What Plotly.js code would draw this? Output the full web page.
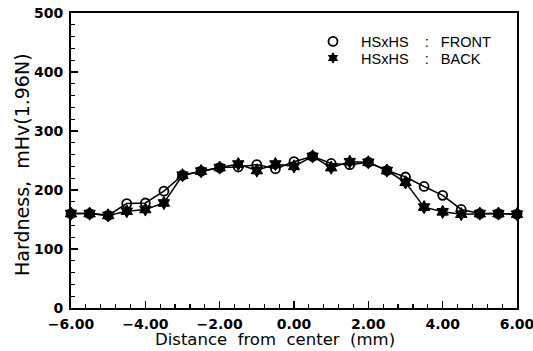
<!DOCTYPE html>
<html>
<head>
<meta charset="utf-8">
<script src="https://cdn.plot.ly/plotly-3.0.1.min.js"></script>
<style>html,body{margin:0;padding:0;background:#fff;}#chart{width:533px;height:351px;}</style>
</head>
<body>
<div id="chart"></div>
<script>
// Data
const distance = [-6.0, -5.5, -5.0, -4.5, -4.0, -3.5, -3.0, -2.5, -2.0, -1.5, -1.0, -0.5, 0.0, 0.5, 1.0, 1.5, 2.0, 2.5, 3.0, 3.5, 4.0, 4.5, 5.0, 5.5, 6.0];
const frontHardness = [160, 160, 157, 177, 178, 198, 225, 232, 238, 239, 243, 236, 248, 257, 245, 243, 247, 233, 222, 206, 191, 167, 160, 160, 159];
const backHardness  = [160, 160, 157, 164, 167, 178, 225, 232, 238, 244, 233, 244, 240, 257, 238, 248, 247, 233, 213, 171, 163, 159, 160, 160, 159];
const xTickVals = [-6, -4, -2, 0, 2, 4, 6];
const yTickVals = [0, 100, 200, 300, 400, 500];
const frontName = "\u00a0\u00a0HSxHS\u00a0\u00a0\u00a0\u00a0:\u00a0\u00a0\u00a0FRONT";
const backName  = "\u00a0\u00a0HSxHS\u00a0\u00a0\u00a0\u00a0:\u00a0\u00a0\u00a0BACK";
const xTitle = "Distance\u00a0\u00a0from\u00a0\u00a0center\u00a0\u00a0(mm)";
const yTitle = "Hardness,\u00a0\u00a0mHv(1.96N)";

const traces = [
  {x: distance, y: backHardness, type: 'scatter', mode: 'lines+markers', showlegend: false, cliponaxis: false,
   line: {color: '#000', width: 1.5},
   marker: {symbol: 'hexagram', size: 10, color: '#000', line: {color: '#000', width: 1}}},
  {x: distance, y: frontHardness, type: 'scatter', mode: 'lines+markers', showlegend: false, cliponaxis: false,
   line: {color: '#000', width: 1.5},
   marker: {symbol: 'circle-open', size: 9, color: '#000', line: {color: '#000', width: 1.8}}},
  {x: [null], y: [null], type: 'scatter', mode: 'markers', name: frontName, legend: 'legend',
   marker: {symbol: 'circle-open', size: 9, color: '#000', line: {color: '#000', width: 1.8}}},
  {x: [null], y: [null], type: 'scatter', mode: 'markers', name: backName, legend: 'legend2',
   marker: {symbol: 'hexagram', size: 9, color: '#000'}}
];

const legendBase = {xanchor: 'left', yanchor: 'middle', bgcolor: 'rgba(0,0,0,0)', itemwidth: 30,
                    font: {family: 'Liberation Sans', size: 14.5, color: '#000'}};

const layout = {
  width: 533, height: 351,
  margin: {l: 71, r: 16, t: 13, b: 43, pad: 0},
  paper_bgcolor: '#fff', plot_bgcolor: '#fff',
  font: {family: 'DejaVu Sans', color: '#000', size: 14},
  xaxis: {
    range: [-6, 6], tickvals: xTickVals, tickformat: '.2f',
    ticks: 'inside', ticklen: 7, tickwidth: 1.5, tickcolor: '#000',
    minor: {dtick: 0.4, tick0: -6, ticks: 'inside', ticklen: 4, tickwidth: 1.2, tickcolor: '#000'},
    showline: true, linecolor: '#000', linewidth: 2, mirror: true,
    showgrid: false, zeroline: false, ticklabelstandoff: 2, ticklabeloverflow: 'allow',
    tickfont: {family: 'DejaVu Sans', size: 14, weight: 'bold', color: '#000'}
  },
  yaxis: {
    range: [0, 500], tickvals: yTickVals,
    ticks: 'inside', ticklen: 7, tickwidth: 1.5, tickcolor: '#000',
    minor: {dtick: 20, tick0: 0, ticks: 'inside', ticklen: 4, tickwidth: 1.2, tickcolor: '#000'},
    showline: true, linecolor: '#000', linewidth: 2, mirror: true,
    showgrid: false, zeroline: false, ticklabelstandoff: 3,
    tickfont: {family: 'DejaVu Sans', size: 14, weight: 'bold', color: '#000'}
  },
  showlegend: true,
  legend: Object.assign({}, legendBase, {x: (313 - 71) / 446, y: 0.9034}),
  legend2: Object.assign({}, legendBase, {x: (313 - 71) / 446, y: 0.8475}),
  annotations: [
    {text: xTitle, xref: 'paper', yref: 'paper', x: (275 - 71) / 446, y: 0, yshift: -31,
     xanchor: 'center', yanchor: 'middle', showarrow: false,
     font: {family: 'DejaVu Sans', size: 16.5, color: '#000'}},
    {text: yTitle, xref: 'paper', yref: 'paper', x: 0, xshift: -49, y: 0.485,
     xanchor: 'center', yanchor: 'middle', showarrow: false, textangle: -90,
     font: {family: 'DejaVu Sans', size: 19, color: '#000'}}
  ]
};

Plotly.newPlot('chart', traces, layout, {displayModeBar: false, staticPlot: true});
</script>
</body>
</html>
